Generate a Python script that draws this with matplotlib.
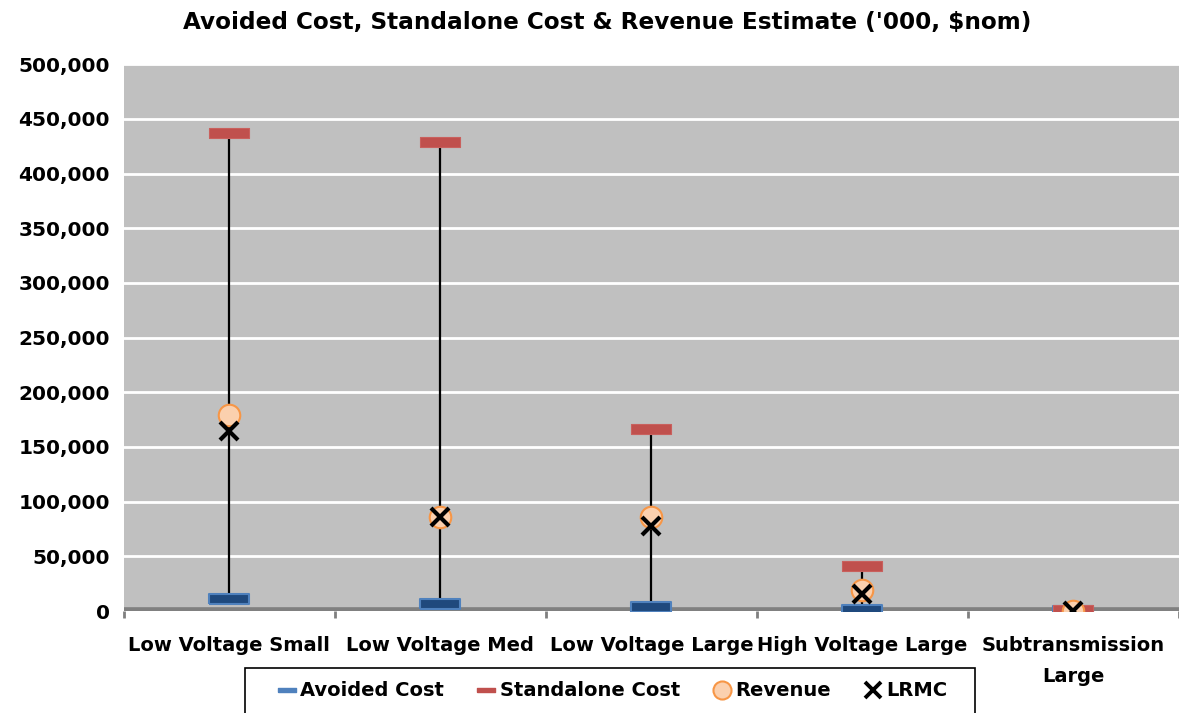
import matplotlib
matplotlib.use("Agg")
import matplotlib.pyplot as plt
import numpy as np
from matplotlib.lines import Line2D
from matplotlib.patches import Rectangle
from matplotlib.ticker import FuncFormatter

plt.rcParams['font.family'] = ['DejaVu Sans']

kategoriyalar = ["Low Voltage Small", "Low Voltage Med", "Low Voltage Large",
                 "High Voltage Large", "Subtransmission\nLarge"]
avoided = [11000, 6000, 4000, 1000, 0]
standalone = [437000, 429000, 166000, 41000, 1000]
revenue = [179000, 86000, 86000, 19000, 0]
lrmc = [165000, 86000, 78000, 16000, 0]

x = np.arange(len(kategoriyalar)) + 0.5

fig = plt.figure(figsize=(11.79, 7.13), dpi=100)
ax = fig.add_axes([0.105, 0.143, 0.895, 0.767])
ax.set_facecolor("#C0C0C0")

# to'rtburchak marker (gorizontal)
rect = [(-2.2, -0.5), (2.2, -0.5), (2.2, 0.5), (-2.2, 0.5), (-2.2, -0.5)]
dash = [(-2.0, -0.5), (2.0, -0.5), (2.0, 0.5), (-2.0, 0.5), (-2.0, -0.5)]

for i in range(len(x)):
    ax.plot([x[i], x[i]], [avoided[i], standalone[i]], color="black", lw=1.6, zorder=3)

ax.plot(x, avoided, ls="none", marker=rect, markersize=29,
        markerfacecolor="#1F497D", markeredgecolor="#4F81BD", markeredgewidth=1.5, zorder=4)
ax.plot(x, standalone, ls="none", marker=rect, markersize=29,
        markerfacecolor="#C0504D", markeredgecolor="#C9605D", markeredgewidth=0.8, zorder=5)
ax.plot(x, revenue, ls="none", marker="o", markersize=15.5,
        markerfacecolor="#FBD0AE", markeredgecolor="#F79646", markeredgewidth=1.5, zorder=6)
ax.plot(x, lrmc, ls="none", marker="x", markersize=13,
        markeredgecolor="black", markeredgewidth=3, zorder=7)

ax.axhline(0, color="#808080", lw=5.5, zorder=2)

ax.set_xlim(0, 5)
ax.set_ylim(0, 500000)
ax.set_yticks(np.arange(0, 500001, 50000))
ax.yaxis.set_major_formatter(FuncFormatter(lambda v, p: f"{int(v):,}"))
ax.grid(axis="y", color="white", lw=2, zorder=1)
ax.set_axisbelow(True)

ax.set_xticks(x)
ax.set_xticklabels(kategoriyalar, fontsize=14, fontweight="bold", linespacing=1.8)
ax.set_xticks(np.arange(0, 6), minor=True)
ax.tick_params(axis="x", which="major", length=0, pad=18)
ax.tick_params(axis="x", which="minor", length=5, width=2, color="#808080")
ax.tick_params(axis="y", length=0, pad=10)
for t in ax.get_yticklabels():
    t.set_fontsize(14.5)
    t.set_fontweight("bold")

for s in ["top", "right", "left", "bottom"]:
    ax.spines[s].set_visible(False)

fig.text(0.515, 0.968, "Avoided Cost, Standalone Cost & Revenue Estimate ('000, $nom)",
         ha="center", va="center", fontsize=16.7, fontweight="bold")

# legend ramkasi (pastdan kesilgan)
fig.patches.append(Rectangle((0.208, -0.05), 0.619, 0.113, transform=fig.transFigure,
                             facecolor="white", edgecolor="black", lw=1.2, zorder=0))

handles = [
    Line2D([], [], ls="none", marker=dash, markersize=13, markerfacecolor="#4F81BD", markeredgecolor="#4F81BD"),
    Line2D([], [], ls="none", marker=dash, markersize=13, markerfacecolor="#C0504D", markeredgecolor="#C0504D"),
    Line2D([], [], ls="none", marker="o", markersize=13, markerfacecolor="#FBD0AE",
           markeredgecolor="#F79646", markeredgewidth=1.5),
    Line2D([], [], ls="none", marker="x", markersize=11, markeredgecolor="black", markeredgewidth=2.8),
]
leg = fig.legend(handles, ["Avoided Cost", "Standalone Cost", "Revenue", "LRMC"],
                 loc="center left", bbox_to_anchor=(0.235, 0.031), ncol=4,
                 prop={"weight": "bold", "size": 14}, frameon=False,
                 handletextpad=0.2, columnspacing=1.65,
                 handlelength=1.0, borderpad=0, borderaxespad=0)

plt.savefig("out.png", dpi=100)
